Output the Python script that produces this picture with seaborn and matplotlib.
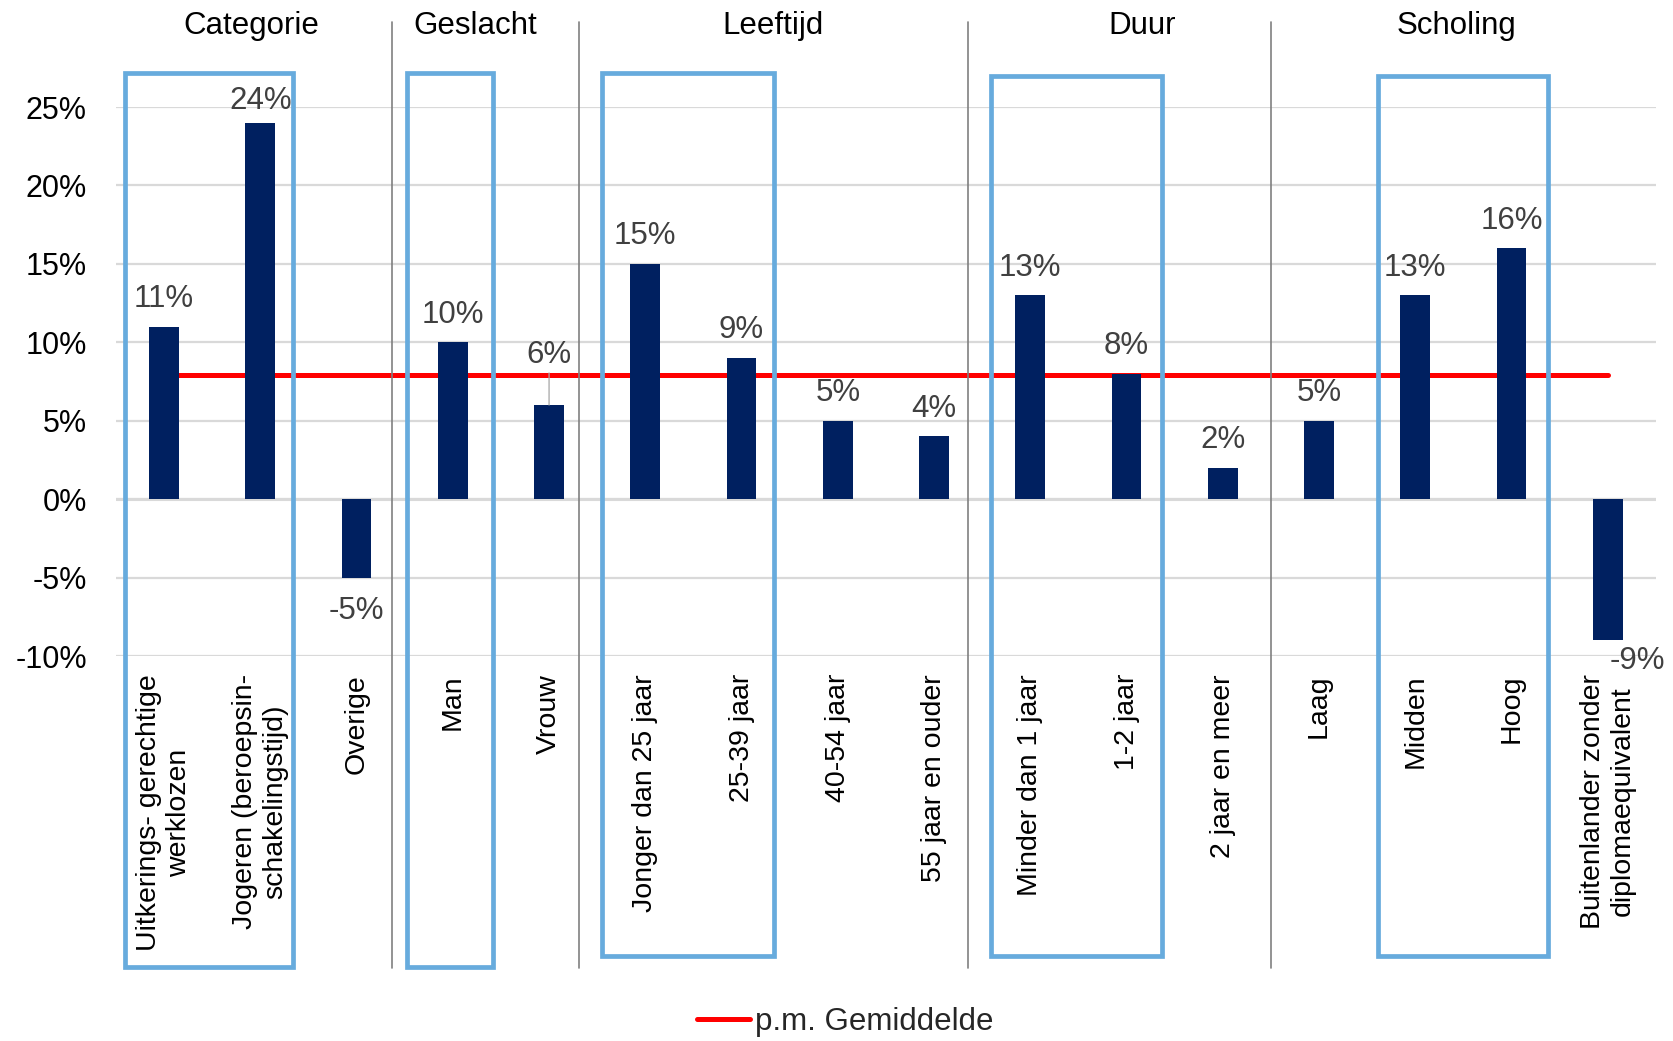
import matplotlib
matplotlib.use("Agg")
import matplotlib.pyplot as plt
import seaborn as sns
import numpy as np
from matplotlib.patches import Rectangle
from matplotlib.ticker import FuncFormatter

# categories (x axis) and effect per category
categorieen = [
    "Uitkerings- gerechtige\nwerklozen",
    "Jogeren (beroepsin-\nschakelingstijd)",
    "Overige",
    "Man",
    "Vrouw",
    "Jonger dan 25 jaar",
    "25-39 jaar",
    "40-54 jaar",
    "55 jaar en ouder",
    "Minder dan 1 jaar",
    "1-2 jaar",
    "2 jaar en meer",
    "Laag",
    "Midden",
    "Hoog",
    "Buitenlander zonder\ndiplomaequivalent",
]
effect = [0.11, 0.24, -0.05, 0.10, 0.06, 0.15, 0.09, 0.05, 0.04,
          0.13, 0.08, 0.02, 0.05, 0.13, 0.16, -0.09]
gemiddelde = 0.079  # p.m. Gemiddelde

groepen = ["Categorie", "Geslacht", "Leeftijd", "Duur", "Scholing"]

# layout of the annotations (category units)
groep_x = [0.91, 3.23, 6.33, 10.16, 13.43]
scheiding_x = [2.367, 4.316, 8.352, 11.5]
kaders = [(-0.41, 1.34, 0.2716, -0.2983),
          (2.52, 3.42, 0.2716, -0.2983),
          (4.555, 6.336, 0.2716, -0.2913),
          (8.59, 10.37, 0.2697, -0.2913),
          (12.61, 14.38, 0.2697, -0.2913)]

NAVY = "#002060"
BLAUW = "#67ABDD"

sns.set_theme(style="white")
plt.rcParams["font.family"] = ["Liberation Sans", "DejaVu Sans"]

fig = plt.figure(figsize=(16.73, 10.41), dpi=100)
ax = fig.add_axes([0.0693, 0.3698, 0.9205, 0.5274])

n = len(categorieen)
# red average line (behind the bars)
sns.lineplot(x=np.arange(n), y=[gemiddelde] * n, color="#FF0000", lw=3.6,
             ax=ax, zorder=2, label="p.m. Gemiddelde")
sns.barplot(x=categorieen, y=effect, color=NAVY, width=0.31, saturation=1,
            linewidth=0, ax=ax, zorder=3)

ax.set_xlim(-0.5, n - 0.5)
ax.set_ylim(-0.10, 0.25)
ax.set_yticks(np.arange(-0.10, 0.251, 0.05))
ax.yaxis.set_major_formatter(FuncFormatter(lambda v, p: f"{v * 100:.0f}%"))
ax.grid(axis="y", color="#d9d9d9", lw=1.6, zorder=0)
ax.grid(axis="x", visible=False)
ax.axhline(0, color="#d9d9d9", lw=2.2, zorder=1)
for s in ax.spines.values():
    s.set_visible(False)
ax.tick_params(axis="y", length=0, pad=21, labelsize=22, labelcolor="black")
ax.tick_params(axis="x", length=0, pad=13, labelsize=20.5, labelcolor="black")
ax.set_xticks(range(n))
ax.set_xticklabels(categorieen, rotation=90, ha="center", va="top",
                   multialignment="center")
ax.set_xlabel("")
ax.set_ylabel("")

# data labels
for i, v in enumerate(effect):
    txt = f"{v * 100:.0f}%"
    if i == 4:  # Vrouw: label lifted above the average line
        ax.annotate(txt, xy=(i, v), xytext=(0, 25.5), textcoords="offset points",
                    ha="center", va="bottom", fontsize=22.5, color="#404040",
                    arrowprops=dict(arrowstyle="-", color="#a6a6a6", lw=0.9,
                                    shrinkA=0, shrinkB=0), zorder=5)
    elif i == n - 1:
        ax.annotate(txt, xy=(i, v), xytext=(21, -4), textcoords="offset points",
                    ha="center", va="top", fontsize=22.5, color="#404040",
                    zorder=5)
    elif v < 0:
        ax.annotate(txt, xy=(i, v), xytext=(0, -13), textcoords="offset points",
                    ha="center", va="top", fontsize=22.5, color="#404040",
                    zorder=5)
    else:
        dy = 5 if v > 0.2 else 9  # top label sits closer to its bar
        ax.annotate(txt, xy=(i, v), xytext=(0, dy), textcoords="offset points",
                    ha="center", va="bottom", fontsize=22.5, color="#404040",
                    zorder=5)

# group separators and headers
for x in scheiding_x:
    ax.plot([x, x], [0.304, -0.2989], color="#808080", lw=1.2,
            clip_on=False, zorder=4)
for naam, x in zip(groepen, groep_x):
    ax.text(x, 0.2965, naam, ha="center", va="baseline", fontsize=22.5,
            color="black")

# blue highlight frames
for x0, x1, y1, y0 in kaders:
    ax.add_patch(Rectangle((x0, y0), x1 - x0, y1 - y0, fill=False,
                           edgecolor=BLAUW, lw=3.4, clip_on=False, zorder=4))

leg = ax.legend(loc="center", bbox_to_anchor=(0.505, 0.018),
                bbox_transform=fig.transFigure, frameon=False, fontsize=22.5,
                handlelength=1.7, handletextpad=0.15, borderpad=0)

fig.savefig("out.png", dpi=100)
